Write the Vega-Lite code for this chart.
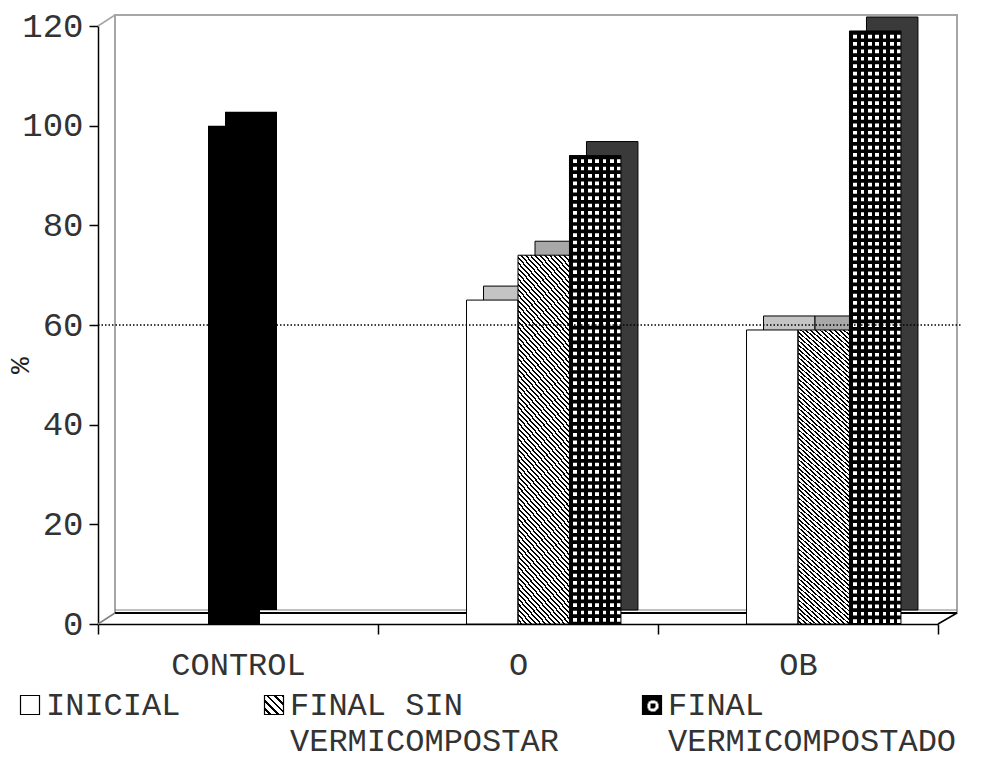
{
  "$schema": "https://vega.github.io/schema/vega-lite/v6.json",
  "width": 842,
  "height": 598,
  "autosize": "none",
  "padding": {"left": 115, "top": 15, "right": 27, "bottom": 147},
  "background": "white",
  "config": {
    "view": {"stroke": "#a6a6a6", "strokeWidth": 2, "fill": "white"},
    "font": "Liberation Mono",
    "axis": {"grid": false, "labelFont": "Liberation Mono", "titleFont": "Liberation Mono", "labelColor": "#333", "titleColor": "#222"},
    "style": {"guide-label": {"lineHeight": 36}}
  },
  "params": [
    {"name": "hatchKey", "value": {"gradient": "linear", "x1": 1, "y1": 0, "x2": 0, "y2": 1, "stops": [
      {"offset": 0, "color": "#000"}, {"offset": 0.07, "color": "#000"}, {"offset": 0.07, "color": "#fff"}, {"offset": 0.2, "color": "#fff"},
      {"offset": 0.2, "color": "#000"}, {"offset": 0.27, "color": "#000"}, {"offset": 0.27, "color": "#fff"}, {"offset": 0.4, "color": "#fff"},
      {"offset": 0.4, "color": "#000"}, {"offset": 0.47, "color": "#000"}, {"offset": 0.47, "color": "#fff"}, {"offset": 0.6, "color": "#fff"},
      {"offset": 0.6, "color": "#000"}, {"offset": 0.67, "color": "#000"}, {"offset": 0.67, "color": "#fff"}, {"offset": 0.8, "color": "#fff"},
      {"offset": 0.8, "color": "#000"}, {"offset": 0.87, "color": "#000"}, {"offset": 0.87, "color": "#fff"}, {"offset": 1, "color": "#fff"}
    ]}},
    {"name": "checkKey", "value": {"gradient": "radial", "x1": 0.55, "y1": 0.55, "r1": 0, "x2": 0.55, "y2": 0.55, "r2": 0.5, "stops": [
      {"offset": 0, "color": "#000"}, {"offset": 0.3, "color": "#000"}, {"offset": 0.3, "color": "#fff"}, {"offset": 0.6, "color": "#fff"},
      {"offset": 0.6, "color": "#000"}, {"offset": 1, "color": "#000"}
    ]}}
  ],
  "data": {"values": [
    {"grupo": "CONTROL", "serie": "CONTROL", "valor": 100},
    {"grupo": "O", "serie": "INICIAL", "valor": 65},
    {"grupo": "O", "serie": "FINAL SIN VERMICOMPOSTAR", "valor": 74},
    {"grupo": "O", "serie": "FINAL VERMICOMPOSTADO", "valor": 94},
    {"grupo": "OB", "serie": "INICIAL", "valor": 59},
    {"grupo": "OB", "serie": "FINAL SIN VERMICOMPOSTAR", "valor": 59},
    {"grupo": "OB", "serie": "FINAL VERMICOMPOSTADO", "valor": 119}
  ]},
  "encoding": {
    "x": {
      "field": "grupo", "type": "nominal", "title": null,
      "scale": {"domain": ["CONTROL", "O", "OB"], "range": [-17, 823], "paddingInner": 0, "paddingOuter": 0},
      "axis": {"orient": "bottom", "offset": 11, "tickBand": "extent", "domainColor": "black", "domainWidth": 1.5, "tickColor": "black", "tickWidth": 1.5, "tickSize": 10, "labelFontSize": 32, "labelPadding": 15, "labelAngle": 0}
    },
    "y": {
      "field": "valor", "type": "quantitative", "title": "%",
      "scale": {"domain": [0, 120], "range": [609, 11], "nice": false},
      "axis": {"orient": "left", "offset": 17, "values": [0, 20, 40, 60, 80, 100, 120], "domainColor": "black", "domainWidth": 1.5, "tickColor": "black", "tickWidth": 1.5, "tickSize": 9, "labelFontSize": 34, "labelPadding": 6, "titleFontSize": 28, "titleFontWeight": "normal", "titleX": -78, "titleY": 350, "titleBaseline": "middle"}
    }
  },
  "resolve": {"scale": {"xOffset": "independent"}},
  "layer": [
    {
      "data": {"values": [{}]},
      "mark": {"type": "rule", "color": "#808080", "strokeWidth": 1, "yOffset": -3},
      "encoding": {"x": {"value": 0}, "x2": {"value": "width"}, "y": {"value": "height"}}
    },
    {
      "data": {"values": [{}]},
      "mark": {"type": "rule", "color": "black", "strokeWidth": 2},
      "encoding": {"x": {"value": 0}, "x2": {"value": "width"}, "y": {"value": "height"}}
    },
    {
      "data": {"values": [{}]},
      "mark": {"type": "rule", "color": "#a6a6a6", "strokeWidth": 1.5, "x2Offset": -17, "y2Offset": 11},
      "encoding": {"x": {"value": 0}, "x2": {"value": 0}, "y": {"value": 0}, "y2": {"value": 0}}
    },
    {
      "data": {"values": [{}]},
      "mark": {"type": "rule", "color": "#808080", "strokeWidth": 1.5, "x2Offset": -17, "y2Offset": 11},
      "encoding": {"x": {"value": 0}, "x2": {"value": 0}, "y": {"value": "height"}, "y2": {"value": "height"}}
    },
    {
      "data": {"values": [{}]},
      "mark": {"type": "rule", "color": "black", "strokeWidth": 1.5, "x2Offset": -19, "y2Offset": 11},
      "encoding": {"x": {"value": "width"}, "x2": {"value": "width"}, "y": {"value": "height"}, "y2": {"value": "height"}}
    },
    {
      "transform": [{"filter": "datum.serie !== 'CONTROL'"}],
      "mark": {"type": "bar", "yOffset": -14, "stroke": "black", "strokeWidth": 1},
      "encoding": {
        "xOffset": {"field": "serie", "type": "nominal", "scale": {"domain": ["CONTROL", "INICIAL", "FINAL SIN VERMICOMPOSTAR", "FINAL VERMICOMPOSTADO"], "range": [17, 297], "paddingInner": 0, "paddingOuter": 0.72}},
        "fill": {"condition": [
          {"test": "datum.serie === 'INICIAL'", "value": "#c4c4c4"},
          {"test": "datum.serie === 'FINAL SIN VERMICOMPOSTAR'", "value": "#a8a8a8"}
        ], "value": "#3a3a3a"}
      }
    },
    {
      "transform": [{"filter": "datum.serie === 'CONTROL'"}],
      "mark": {"type": "bar", "width": 52, "xOffset": 13, "yOffset": -14, "fill": "black"}
    },
    {
      "transform": [{"filter": "datum.serie === 'INICIAL'"}],
      "mark": {"type": "bar", "fill": "white"},
      "encoding": {
        "xOffset": {"field": "serie", "type": "nominal", "scale": {"domain": ["CONTROL", "INICIAL", "FINAL SIN VERMICOMPOSTAR", "FINAL VERMICOMPOSTADO"], "paddingInner": 0, "paddingOuter": 0.72}}
      }
    },
    {
      "transform": [{"filter": "datum.serie === 'FINAL SIN VERMICOMPOSTAR'"}],
      "mark": {"type": "bar", "fill": {"gradient": "linear", "x1": 1, "y1": 0, "x2": 0.8239, "y2": 1.1286, "stops": [
        {"offset": 0, "color": "#000"}, {"offset": 0.005, "color": "#000"}, {"offset": 0.005, "color": "#fff"}, {"offset": 0.0125, "color": "#fff"},
        {"offset": 0.0125, "color": "#000"}, {"offset": 0.0175, "color": "#000"}, {"offset": 0.0175, "color": "#fff"}, {"offset": 0.025, "color": "#fff"},
        {"offset": 0.025, "color": "#000"}, {"offset": 0.03, "color": "#000"}, {"offset": 0.03, "color": "#fff"}, {"offset": 0.0375, "color": "#fff"},
        {"offset": 0.0375, "color": "#000"}, {"offset": 0.0425, "color": "#000"}, {"offset": 0.0425, "color": "#fff"}, {"offset": 0.05, "color": "#fff"},
        {"offset": 0.05, "color": "#000"}, {"offset": 0.055, "color": "#000"}, {"offset": 0.055, "color": "#fff"}, {"offset": 0.0625, "color": "#fff"},
        {"offset": 0.0625, "color": "#000"}, {"offset": 0.0675, "color": "#000"}, {"offset": 0.0675, "color": "#fff"}, {"offset": 0.075, "color": "#fff"},
        {"offset": 0.075, "color": "#000"}, {"offset": 0.08, "color": "#000"}, {"offset": 0.08, "color": "#fff"}, {"offset": 0.0875, "color": "#fff"},
        {"offset": 0.0875, "color": "#000"}, {"offset": 0.0925, "color": "#000"}, {"offset": 0.0925, "color": "#fff"}, {"offset": 0.1, "color": "#fff"},
        {"offset": 0.1, "color": "#000"}, {"offset": 0.105, "color": "#000"}, {"offset": 0.105, "color": "#fff"}, {"offset": 0.1125, "color": "#fff"},
        {"offset": 0.1125, "color": "#000"}, {"offset": 0.1175, "color": "#000"}, {"offset": 0.1175, "color": "#fff"}, {"offset": 0.125, "color": "#fff"},
        {"offset": 0.125, "color": "#000"}, {"offset": 0.13, "color": "#000"}, {"offset": 0.13, "color": "#fff"}, {"offset": 0.1375, "color": "#fff"},
        {"offset": 0.1375, "color": "#000"}, {"offset": 0.1425, "color": "#000"}, {"offset": 0.1425, "color": "#fff"}, {"offset": 0.15, "color": "#fff"},
        {"offset": 0.15, "color": "#000"}, {"offset": 0.155, "color": "#000"}, {"offset": 0.155, "color": "#fff"}, {"offset": 0.1625, "color": "#fff"},
        {"offset": 0.1625, "color": "#000"}, {"offset": 0.1675, "color": "#000"}, {"offset": 0.1675, "color": "#fff"}, {"offset": 0.175, "color": "#fff"},
        {"offset": 0.175, "color": "#000"}, {"offset": 0.18, "color": "#000"}, {"offset": 0.18, "color": "#fff"}, {"offset": 0.1875, "color": "#fff"},
        {"offset": 0.1875, "color": "#000"}, {"offset": 0.1925, "color": "#000"}, {"offset": 0.1925, "color": "#fff"}, {"offset": 0.2, "color": "#fff"},
        {"offset": 0.2, "color": "#000"}, {"offset": 0.205, "color": "#000"}, {"offset": 0.205, "color": "#fff"}, {"offset": 0.2125, "color": "#fff"},
        {"offset": 0.2125, "color": "#000"}, {"offset": 0.2175, "color": "#000"}, {"offset": 0.2175, "color": "#fff"}, {"offset": 0.225, "color": "#fff"},
        {"offset": 0.225, "color": "#000"}, {"offset": 0.23, "color": "#000"}, {"offset": 0.23, "color": "#fff"}, {"offset": 0.2375, "color": "#fff"},
        {"offset": 0.2375, "color": "#000"}, {"offset": 0.2425, "color": "#000"}, {"offset": 0.2425, "color": "#fff"}, {"offset": 0.25, "color": "#fff"},
        {"offset": 0.25, "color": "#000"}, {"offset": 0.255, "color": "#000"}, {"offset": 0.255, "color": "#fff"}, {"offset": 0.2625, "color": "#fff"},
        {"offset": 0.2625, "color": "#000"}, {"offset": 0.2675, "color": "#000"}, {"offset": 0.2675, "color": "#fff"}, {"offset": 0.275, "color": "#fff"},
        {"offset": 0.275, "color": "#000"}, {"offset": 0.28, "color": "#000"}, {"offset": 0.28, "color": "#fff"}, {"offset": 0.2875, "color": "#fff"},
        {"offset": 0.2875, "color": "#000"}, {"offset": 0.2925, "color": "#000"}, {"offset": 0.2925, "color": "#fff"}, {"offset": 0.3, "color": "#fff"},
        {"offset": 0.3, "color": "#000"}, {"offset": 0.305, "color": "#000"}, {"offset": 0.305, "color": "#fff"}, {"offset": 0.3125, "color": "#fff"},
        {"offset": 0.3125, "color": "#000"}, {"offset": 0.3175, "color": "#000"}, {"offset": 0.3175, "color": "#fff"}, {"offset": 0.325, "color": "#fff"},
        {"offset": 0.325, "color": "#000"}, {"offset": 0.33, "color": "#000"}, {"offset": 0.33, "color": "#fff"}, {"offset": 0.3375, "color": "#fff"},
        {"offset": 0.3375, "color": "#000"}, {"offset": 0.3425, "color": "#000"}, {"offset": 0.3425, "color": "#fff"}, {"offset": 0.35, "color": "#fff"},
        {"offset": 0.35, "color": "#000"}, {"offset": 0.355, "color": "#000"}, {"offset": 0.355, "color": "#fff"}, {"offset": 0.3625, "color": "#fff"},
        {"offset": 0.3625, "color": "#000"}, {"offset": 0.3675, "color": "#000"}, {"offset": 0.3675, "color": "#fff"}, {"offset": 0.375, "color": "#fff"},
        {"offset": 0.375, "color": "#000"}, {"offset": 0.38, "color": "#000"}, {"offset": 0.38, "color": "#fff"}, {"offset": 0.3875, "color": "#fff"},
        {"offset": 0.3875, "color": "#000"}, {"offset": 0.3925, "color": "#000"}, {"offset": 0.3925, "color": "#fff"}, {"offset": 0.4, "color": "#fff"},
        {"offset": 0.4, "color": "#000"}, {"offset": 0.405, "color": "#000"}, {"offset": 0.405, "color": "#fff"}, {"offset": 0.4125, "color": "#fff"},
        {"offset": 0.4125, "color": "#000"}, {"offset": 0.4175, "color": "#000"}, {"offset": 0.4175, "color": "#fff"}, {"offset": 0.425, "color": "#fff"},
        {"offset": 0.425, "color": "#000"}, {"offset": 0.43, "color": "#000"}, {"offset": 0.43, "color": "#fff"}, {"offset": 0.4375, "color": "#fff"},
        {"offset": 0.4375, "color": "#000"}, {"offset": 0.4425, "color": "#000"}, {"offset": 0.4425, "color": "#fff"}, {"offset": 0.45, "color": "#fff"},
        {"offset": 0.45, "color": "#000"}, {"offset": 0.455, "color": "#000"}, {"offset": 0.455, "color": "#fff"}, {"offset": 0.4625, "color": "#fff"},
        {"offset": 0.4625, "color": "#000"}, {"offset": 0.4675, "color": "#000"}, {"offset": 0.4675, "color": "#fff"}, {"offset": 0.475, "color": "#fff"},
        {"offset": 0.475, "color": "#000"}, {"offset": 0.48, "color": "#000"}, {"offset": 0.48, "color": "#fff"}, {"offset": 0.4875, "color": "#fff"},
        {"offset": 0.4875, "color": "#000"}, {"offset": 0.4925, "color": "#000"}, {"offset": 0.4925, "color": "#fff"}, {"offset": 0.5, "color": "#fff"},
        {"offset": 0.5, "color": "#000"}, {"offset": 0.505, "color": "#000"}, {"offset": 0.505, "color": "#fff"}, {"offset": 0.5125, "color": "#fff"},
        {"offset": 0.5125, "color": "#000"}, {"offset": 0.5175, "color": "#000"}, {"offset": 0.5175, "color": "#fff"}, {"offset": 0.525, "color": "#fff"},
        {"offset": 0.525, "color": "#000"}, {"offset": 0.53, "color": "#000"}, {"offset": 0.53, "color": "#fff"}, {"offset": 0.5375, "color": "#fff"},
        {"offset": 0.5375, "color": "#000"}, {"offset": 0.5425, "color": "#000"}, {"offset": 0.5425, "color": "#fff"}, {"offset": 0.55, "color": "#fff"},
        {"offset": 0.55, "color": "#000"}, {"offset": 0.555, "color": "#000"}, {"offset": 0.555, "color": "#fff"}, {"offset": 0.5625, "color": "#fff"},
        {"offset": 0.5625, "color": "#000"}, {"offset": 0.5675, "color": "#000"}, {"offset": 0.5675, "color": "#fff"}, {"offset": 0.575, "color": "#fff"},
        {"offset": 0.575, "color": "#000"}, {"offset": 0.58, "color": "#000"}, {"offset": 0.58, "color": "#fff"}, {"offset": 0.5875, "color": "#fff"},
        {"offset": 0.5875, "color": "#000"}, {"offset": 0.5925, "color": "#000"}, {"offset": 0.5925, "color": "#fff"}, {"offset": 0.6, "color": "#fff"},
        {"offset": 0.6, "color": "#000"}, {"offset": 0.605, "color": "#000"}, {"offset": 0.605, "color": "#fff"}, {"offset": 0.6125, "color": "#fff"},
        {"offset": 0.6125, "color": "#000"}, {"offset": 0.6175, "color": "#000"}, {"offset": 0.6175, "color": "#fff"}, {"offset": 0.625, "color": "#fff"},
        {"offset": 0.625, "color": "#000"}, {"offset": 0.63, "color": "#000"}, {"offset": 0.63, "color": "#fff"}, {"offset": 0.6375, "color": "#fff"},
        {"offset": 0.6375, "color": "#000"}, {"offset": 0.6425, "color": "#000"}, {"offset": 0.6425, "color": "#fff"}, {"offset": 0.65, "color": "#fff"},
        {"offset": 0.65, "color": "#000"}, {"offset": 0.655, "color": "#000"}, {"offset": 0.655, "color": "#fff"}, {"offset": 0.6625, "color": "#fff"},
        {"offset": 0.6625, "color": "#000"}, {"offset": 0.6675, "color": "#000"}, {"offset": 0.6675, "color": "#fff"}, {"offset": 0.675, "color": "#fff"},
        {"offset": 0.675, "color": "#000"}, {"offset": 0.68, "color": "#000"}, {"offset": 0.68, "color": "#fff"}, {"offset": 0.6875, "color": "#fff"},
        {"offset": 0.6875, "color": "#000"}, {"offset": 0.6925, "color": "#000"}, {"offset": 0.6925, "color": "#fff"}, {"offset": 0.7, "color": "#fff"},
        {"offset": 0.7, "color": "#000"}, {"offset": 0.705, "color": "#000"}, {"offset": 0.705, "color": "#fff"}, {"offset": 0.7125, "color": "#fff"},
        {"offset": 0.7125, "color": "#000"}, {"offset": 0.7175, "color": "#000"}, {"offset": 0.7175, "color": "#fff"}, {"offset": 0.725, "color": "#fff"},
        {"offset": 0.725, "color": "#000"}, {"offset": 0.73, "color": "#000"}, {"offset": 0.73, "color": "#fff"}, {"offset": 0.7375, "color": "#fff"},
        {"offset": 0.7375, "color": "#000"}, {"offset": 0.7425, "color": "#000"}, {"offset": 0.7425, "color": "#fff"}, {"offset": 0.75, "color": "#fff"},
        {"offset": 0.75, "color": "#000"}, {"offset": 0.755, "color": "#000"}, {"offset": 0.755, "color": "#fff"}, {"offset": 0.7625, "color": "#fff"},
        {"offset": 0.7625, "color": "#000"}, {"offset": 0.7675, "color": "#000"}, {"offset": 0.7675, "color": "#fff"}, {"offset": 0.775, "color": "#fff"},
        {"offset": 0.775, "color": "#000"}, {"offset": 0.78, "color": "#000"}, {"offset": 0.78, "color": "#fff"}, {"offset": 0.7875, "color": "#fff"},
        {"offset": 0.7875, "color": "#000"}, {"offset": 0.7925, "color": "#000"}, {"offset": 0.7925, "color": "#fff"}, {"offset": 0.8, "color": "#fff"},
        {"offset": 0.8, "color": "#000"}, {"offset": 0.805, "color": "#000"}, {"offset": 0.805, "color": "#fff"}, {"offset": 0.8125, "color": "#fff"},
        {"offset": 0.8125, "color": "#000"}, {"offset": 0.8175, "color": "#000"}, {"offset": 0.8175, "color": "#fff"}, {"offset": 0.825, "color": "#fff"},
        {"offset": 0.825, "color": "#000"}, {"offset": 0.83, "color": "#000"}, {"offset": 0.83, "color": "#fff"}, {"offset": 0.8375, "color": "#fff"},
        {"offset": 0.8375, "color": "#000"}, {"offset": 0.8425, "color": "#000"}, {"offset": 0.8425, "color": "#fff"}, {"offset": 0.85, "color": "#fff"},
        {"offset": 0.85, "color": "#000"}, {"offset": 0.855, "color": "#000"}, {"offset": 0.855, "color": "#fff"}, {"offset": 0.8625, "color": "#fff"},
        {"offset": 0.8625, "color": "#000"}, {"offset": 0.8675, "color": "#000"}, {"offset": 0.8675, "color": "#fff"}, {"offset": 0.875, "color": "#fff"},
        {"offset": 0.875, "color": "#000"}, {"offset": 0.88, "color": "#000"}, {"offset": 0.88, "color": "#fff"}, {"offset": 0.8875, "color": "#fff"},
        {"offset": 0.8875, "color": "#000"}, {"offset": 0.8925, "color": "#000"}, {"offset": 0.8925, "color": "#fff"}, {"offset": 0.9, "color": "#fff"},
        {"offset": 0.9, "color": "#000"}, {"offset": 0.905, "color": "#000"}, {"offset": 0.905, "color": "#fff"}, {"offset": 0.9125, "color": "#fff"},
        {"offset": 0.9125, "color": "#000"}, {"offset": 0.9175, "color": "#000"}, {"offset": 0.9175, "color": "#fff"}, {"offset": 0.925, "color": "#fff"},
        {"offset": 0.925, "color": "#000"}, {"offset": 0.93, "color": "#000"}, {"offset": 0.93, "color": "#fff"}, {"offset": 0.9375, "color": "#fff"},
        {"offset": 0.9375, "color": "#000"}, {"offset": 0.9425, "color": "#000"}, {"offset": 0.9425, "color": "#fff"}, {"offset": 0.95, "color": "#fff"},
        {"offset": 0.95, "color": "#000"}, {"offset": 0.955, "color": "#000"}, {"offset": 0.955, "color": "#fff"}, {"offset": 0.9625, "color": "#fff"},
        {"offset": 0.9625, "color": "#000"}, {"offset": 0.9675, "color": "#000"}, {"offset": 0.9675, "color": "#fff"}, {"offset": 0.975, "color": "#fff"},
        {"offset": 0.975, "color": "#000"}, {"offset": 0.98, "color": "#000"}, {"offset": 0.98, "color": "#fff"}, {"offset": 0.9875, "color": "#fff"},
        {"offset": 0.9875, "color": "#000"}, {"offset": 0.9925, "color": "#000"}, {"offset": 0.9925, "color": "#fff"}, {"offset": 1, "color": "#fff"}
      ]}},
      "encoding": {
        "xOffset": {"field": "serie", "type": "nominal", "scale": {"domain": ["CONTROL", "INICIAL", "FINAL SIN VERMICOMPOSTAR", "FINAL VERMICOMPOSTADO"], "paddingInner": 0, "paddingOuter": 0.72}}
      }
    },
    {
      "transform": [{"filter": "datum.serie === 'FINAL VERMICOMPOSTADO'"}],
      "mark": {"type": "bar", "fill": {"gradient": "linear", "x1": 0, "y1": 0, "x2": 1, "y2": 0, "stops": [
        {"offset": 0, "color": "#000"}, {"offset": 0.0714, "color": "#000"}, {"offset": 0.0714, "color": "#fff"}, {"offset": 0.1429, "color": "#fff"},
        {"offset": 0.1429, "color": "#000"}, {"offset": 0.2143, "color": "#000"}, {"offset": 0.2143, "color": "#fff"}, {"offset": 0.2857, "color": "#fff"},
        {"offset": 0.2857, "color": "#000"}, {"offset": 0.3571, "color": "#000"}, {"offset": 0.3571, "color": "#fff"}, {"offset": 0.4286, "color": "#fff"},
        {"offset": 0.4286, "color": "#000"}, {"offset": 0.5, "color": "#000"}, {"offset": 0.5, "color": "#fff"}, {"offset": 0.5714, "color": "#fff"},
        {"offset": 0.5714, "color": "#000"}, {"offset": 0.6429, "color": "#000"}, {"offset": 0.6429, "color": "#fff"}, {"offset": 0.7143, "color": "#fff"},
        {"offset": 0.7143, "color": "#000"}, {"offset": 0.7857, "color": "#000"}, {"offset": 0.7857, "color": "#fff"}, {"offset": 0.8571, "color": "#fff"},
        {"offset": 0.8571, "color": "#000"}, {"offset": 0.9286, "color": "#000"}, {"offset": 0.9286, "color": "#fff"}, {"offset": 1, "color": "#fff"}
      ]}},
      "encoding": {
        "xOffset": {"field": "serie", "type": "nominal", "scale": {"domain": ["CONTROL", "INICIAL", "FINAL SIN VERMICOMPOSTAR", "FINAL VERMICOMPOSTADO"], "paddingInner": 0, "paddingOuter": 0.72}}
      }
    },
    {
      "transform": [{"filter": "datum.serie === 'FINAL VERMICOMPOSTADO'"}],
      "mark": {"type": "rule", "color": "black", "strokeWidth": 51.4, "strokeDash": [3.7, 3.7]},
      "encoding": {
        "xOffset": {"field": "serie", "type": "nominal", "scale": {"domain": ["CONTROL", "INICIAL", "FINAL SIN VERMICOMPOSTAR", "FINAL VERMICOMPOSTADO"], "paddingInner": 0, "paddingOuter": 0.72}},
        "y2": {"datum": 0}
      }
    },
    {
      "transform": [{"filter": "datum.serie !== 'CONTROL'"}],
      "mark": {"type": "bar", "fill": "white", "fillOpacity": 0, "stroke": "black", "strokeWidth": 1},
      "encoding": {
        "xOffset": {"field": "serie", "type": "nominal", "scale": {"domain": ["CONTROL", "INICIAL", "FINAL SIN VERMICOMPOSTAR", "FINAL VERMICOMPOSTADO"], "paddingInner": 0, "paddingOuter": 0.72}}
      }
    },
    {
      "transform": [{"filter": "datum.serie === 'CONTROL'"}],
      "mark": {"type": "bar", "width": 52, "xOffset": -4, "fill": "black"}
    },
    {
      "data": {"values": [{"referencia": 60}]},
      "mark": {"type": "rule", "color": "black", "strokeWidth": 1.3, "strokeDash": [1.5, 2], "xOffset": -17, "x2Offset": 5},
      "encoding": {"x": {"value": 0}, "x2": {"value": "width"}, "y": {"field": "referencia", "type": "quantitative"}}
    },
    {
      "transform": [{"filter": "false"}],
      "mark": {"type": "bar"},
      "encoding": {
        "fill": {
          "field": "serie", "type": "nominal",
          "scale": {"domain": ["INICIAL", "FINAL SIN VERMICOMPOSTAR", "FINAL VERMICOMPOSTADO"], "range": ["white", {"expr": "hatchKey"}, {"expr": "checkKey"}]},
          "legend": {
            "orient": "none", "legendX": -101, "legendY": 674, "direction": "horizontal", "title": null,
            "symbolType": "square", "symbolSize": 361, "symbolStrokeColor": "black", "symbolStrokeWidth": 1.2,
            "labelFont": "Liberation Mono", "labelFontSize": 32, "labelColor": "#333", "labelLimit": 0, "labelOffset": 0,
            "columnPadding": 77, "padding": 0,
            "labelExpr": "datum.label === 'FINAL SIN VERMICOMPOSTAR' ? ['FINAL SIN', 'VERMICOMPOSTAR'] : datum.label === 'FINAL VERMICOMPOSTADO' ? ['FINAL', 'VERMICOMPOSTADO'] : [datum.label, ' ']"
          }
        }
      }
    }
  ]
}
